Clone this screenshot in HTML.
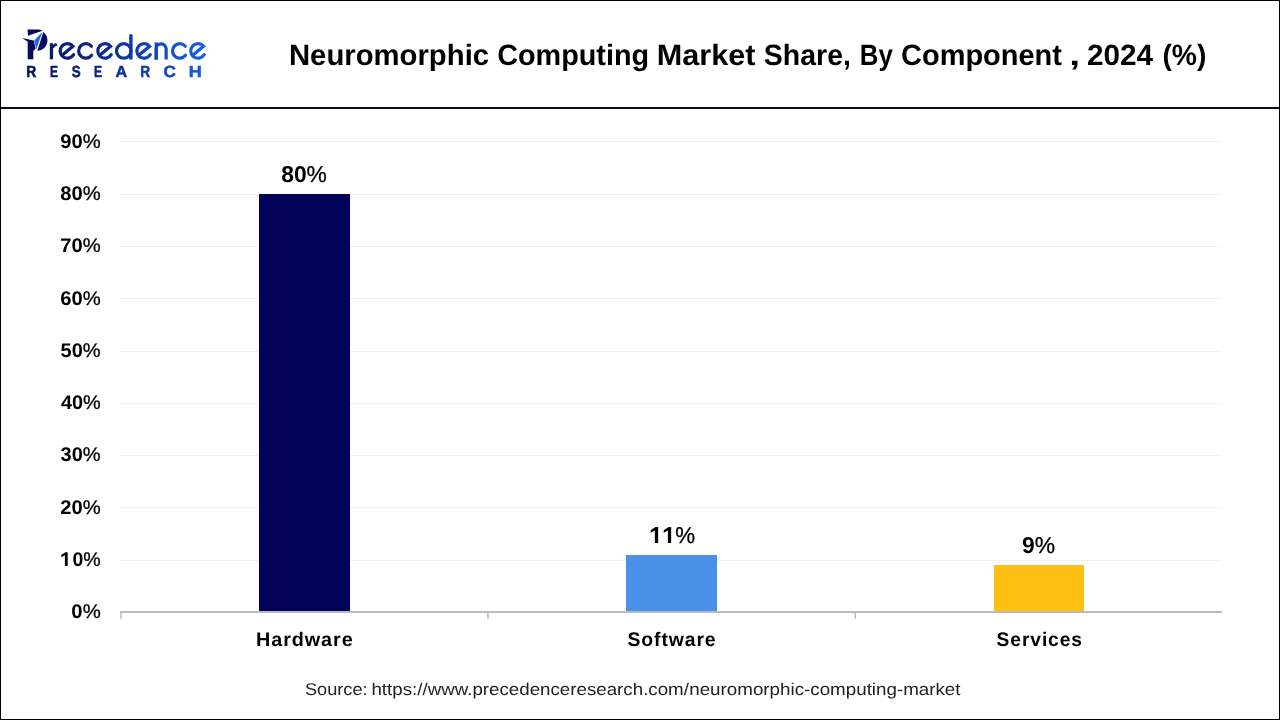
<!DOCTYPE html>
<html>
<head>
<meta charset="utf-8">
<style>
*{margin:0;padding:0;box-sizing:border-box;}
html,body{width:1280px;height:720px;overflow:hidden;background:#fff;}
body{position:relative;font-family:"Liberation Sans",sans-serif;}
svg{position:absolute;left:0;top:0;will-change:transform;}
svg text{font-family:"Liberation Sans",sans-serif;text-rendering:geometricPrecision;}
</style>
</head>
<body>
<svg width="1280" height="720" viewBox="0 0 1280 720">
<defs>
<linearGradient id="lg" gradientUnits="userSpaceOnUse" x1="20" y1="0" x2="206" y2="0">
<stop offset="0" stop-color="#0a0f5c"/>
<stop offset="0.45" stop-color="#0c2a8a"/>
<stop offset="1" stop-color="#1a62e6"/>
</linearGradient>
</defs>
<rect x="0" y="0" width="1280" height="720" fill="#fff"/>
<!-- frame -->
<rect x="0.5" y="0.5" width="1279" height="719" fill="none" stroke="#000" stroke-width="1"/>
<rect x="1" y="107" width="1278" height="2" fill="#0a0a30"/>
<!-- grid -->
<rect x="120" y="141" width="1102" height="1" fill="#f0f0f0"/>
<rect x="120" y="194" width="1102" height="1" fill="#f0f0f0"/>
<rect x="120" y="246" width="1102" height="1" fill="#f0f0f0"/>
<rect x="120" y="298" width="1102" height="1" fill="#f0f0f0"/>
<rect x="120" y="351" width="1102" height="1" fill="#f0f0f0"/>
<rect x="120" y="403" width="1102" height="1" fill="#f0f0f0"/>
<rect x="120" y="455" width="1102" height="1" fill="#f0f0f0"/>
<rect x="120" y="507" width="1102" height="1" fill="#f0f0f0"/>
<rect x="120" y="560" width="1102" height="1" fill="#f0f0f0"/>
<!-- bars -->
<rect x="259" y="194" width="91" height="417" fill="#020258"/>
<rect x="626" y="555" width="91" height="56" fill="#4a90e9"/>
<rect x="994" y="565" width="90" height="46" fill="#fdbf10"/>
<!-- axis -->
<rect x="120" y="611" width="1102" height="2" fill="#bababa"/>
<rect x="120.3" y="611" width="1.5" height="7.8" fill="#bababa"/>
<rect x="487.2" y="611" width="1.5" height="7.8" fill="#bababa"/>
<rect x="854.5" y="611" width="1.5" height="7.8" fill="#bababa"/>
<!-- logo -->
<g fill="none" stroke="url(#lg)" stroke-width="3.20" stroke-linecap="round" stroke-linejoin="miter">
<path d="M73.61,54.68 A7.25,7.25 0 1 1 72.95,46.29 L61.77,55.51"/>
<path d="M111.26,54.68 A7.25,7.25 0 1 1 110.60,46.29 L99.42,55.51"/>
<path d="M150.31,54.68 A7.25,7.25 0 1 1 149.65,46.29 L138.47,55.51"/>
<path d="M204.21,54.68 A7.25,7.25 0 1 1 203.55,46.29 L192.37,55.51"/>
<path d="M91.69,55.31 A7.25,7.25 0 1 1 91.45,46.29"/>
<path d="M185.54,55.31 A7.25,7.25 0 1 1 185.30,46.29"/>
<path d="M131.00,50.95 A7.25,7.25 0 1 0 116.50,50.95 A7.25,7.25 0 1 0 131.00,50.95"/>
<path d="M156.2,59.6 V48.8 A4.97,4.97 0 0 1 166.15,48.8 V59.6" stroke-linecap="butt"/>
</g>
<g fill="url(#lg)">
<rect x="129.2" y="34.3" width="3.4" height="25.2"/>
<rect x="49.8" y="43.2" width="3.3" height="16.1"/>
<path d="M52.6,45.4 Q54,43.3 56.2,42.9 L57.3,45.4 Q55,45.8 53.1,48.6 Z"/>
<rect x="154.6" y="42.4" width="3.2" height="17.2"/>
</g>
<g fill="#08085c">
<path d="M27.5,29.6 L39.2,29.6 Q41.4,29.8 42.5,30.8 L28,35.7 Z"/>
<path d="M22.1,38.1 L33.7,40.5 L35.7,48.7 L33.3,51.0 L33.3,59.3 L27.7,59.3 L27.7,41.7 Z"/>
<path d="M43.3,32.0 C46.3,34.1 47.6,37.6 47.4,41.2 C47.0,46.6 42.6,50.4 37.3,50.9 Z"/>
</g>
<path d="M34.2,40.4 L42.4,31.8 L36.3,49.2 Z" fill="#1d68e4"/>
<text transform="translate(26.37 76.72) scale(0.8595 1)" font-size="16.14" font-weight="bold" fill="#0c1160" stroke="#0c1160" stroke-width="0.55">R</text>
<text transform="translate(49.99 76.72) scale(0.7465 1)" font-size="16.14" font-weight="bold" fill="#0d186c" stroke="#0d186c" stroke-width="0.55">E</text>
<text transform="translate(71.66 76.72) scale(0.8333 1)" font-size="16.14" font-weight="bold" fill="#0e1f78" stroke="#0e1f78" stroke-width="0.55">S</text>
<text transform="translate(94.09 76.72) scale(0.7465 1)" font-size="16.14" font-weight="bold" fill="#0e2684" stroke="#0e2684" stroke-width="0.55">E</text>
<text transform="translate(115.51 76.72) scale(1.0000 1)" font-size="16.14" font-weight="bold" fill="#103094" stroke="#103094" stroke-width="0.55">A</text>
<text transform="translate(140.28 76.72) scale(0.8502 1)" font-size="16.14" font-weight="bold" fill="#133da9" stroke="#133da9" stroke-width="0.55">R</text>
<text transform="translate(163.62 76.72) scale(1.0587 1)" font-size="16.14" font-weight="bold" fill="#1649bd" stroke="#1649bd" stroke-width="0.55">C</text>
<text transform="translate(188.80 76.72) scale(1.1178 1)" font-size="16.14" font-weight="bold" fill="#1957d3" stroke="#1957d3" stroke-width="0.55">H</text>
<!-- texts -->
<text transform="translate(288.97 64.60) scale(0.9962 1)" font-size="29.40" font-weight="bold" fill="#000">Neuromorphic</text>
<text transform="translate(497.20 64.60) scale(0.9795 1)" font-size="29.40" font-weight="bold" fill="#000">Computing</text>
<text transform="translate(656.79 64.60) scale(1.0421 1)" font-size="29.40" font-weight="bold" fill="#000">Market</text>
<text transform="translate(763.86 64.60) scale(0.9683 1)" font-size="29.40" font-weight="bold" fill="#000">Share,</text>
<text transform="translate(859.79 64.60) scale(0.8767 1)" font-size="29.40" font-weight="bold" fill="#000">By</text>
<text transform="translate(901.10 64.60) scale(0.9849 1)" font-size="29.40" font-weight="bold" fill="#000">Component</text>
<text transform="translate(1069.16 64.60) scale(1.3279 1)" font-size="29.40" font-weight="bold" fill="#000">,</text>
<text transform="translate(1086.97 64.60) scale(1.0113 1)" font-size="29.40" font-weight="bold" fill="#000">2024</text>
<text transform="translate(1162.38 64.60) scale(0.9611 1)" font-size="29.40" font-weight="bold" fill="#000">(%)</text>
<text transform="translate(60.27 147.60) scale(1.0203 1)" font-size="19.80" font-weight="bold" fill="#000">90<tspan font-weight="normal" stroke="#000" stroke-width="0.3">%</tspan></text>
<text transform="translate(60.27 199.90) scale(1.0203 1)" font-size="19.80" font-weight="bold" fill="#000">80<tspan font-weight="normal" stroke="#000" stroke-width="0.3">%</tspan></text>
<text transform="translate(60.27 252.20) scale(1.0203 1)" font-size="19.80" font-weight="bold" fill="#000">70<tspan font-weight="normal" stroke="#000" stroke-width="0.3">%</tspan></text>
<text transform="translate(60.27 304.50) scale(1.0203 1)" font-size="19.80" font-weight="bold" fill="#000">60<tspan font-weight="normal" stroke="#000" stroke-width="0.3">%</tspan></text>
<text transform="translate(60.59 356.80) scale(1.0121 1)" font-size="19.80" font-weight="bold" fill="#000">50<tspan font-weight="normal" stroke="#000" stroke-width="0.3">%</tspan></text>
<text transform="translate(60.90 409.10) scale(1.0041 1)" font-size="19.80" font-weight="bold" fill="#000">40<tspan font-weight="normal" stroke="#000" stroke-width="0.3">%</tspan></text>
<text transform="translate(60.59 461.40) scale(1.0121 1)" font-size="19.80" font-weight="bold" fill="#000">30<tspan font-weight="normal" stroke="#000" stroke-width="0.3">%</tspan></text>
<text transform="translate(60.27 513.70) scale(1.0203 1)" font-size="19.80" font-weight="bold" fill="#000">20<tspan font-weight="normal" stroke="#000" stroke-width="0.3">%</tspan></text>
<text transform="translate(72.39 566.00) scale(0.9887 1)" font-size="19.80" font-weight="bold" fill="#000">0<tspan font-weight="normal" stroke="#000" stroke-width="0.3">%</tspan></text>
<text transform="translate(71.37 618.30) scale(1.0252 1)" font-size="19.80" font-weight="bold" fill="#000">0<tspan font-weight="normal" stroke="#000" stroke-width="0.3">%</tspan></text>
<text transform="translate(281.19 181.90) scale(0.9937 1)" font-size="23.00" font-weight="bold" fill="#000">80<tspan font-weight="normal" stroke="#000" stroke-width="0.3">%</tspan></text>
<text transform="translate(675.20 543.00) scale(0.9713 1)" font-size="23.00" stroke="#000" stroke-width="0.30" fill="#000">%</text>
<text transform="translate(1021.98 552.50) scale(0.9957 1)" font-size="23.00" font-weight="bold" fill="#000">9<tspan font-weight="normal" stroke="#000" stroke-width="0.3">%</tspan></text>
<text transform="translate(256.06 645.90) scale(1.0105 1)" font-size="19.60" font-weight="bold" letter-spacing="0.90" fill="#000">Hardware</text>
<text transform="translate(627.50 645.90) scale(0.9900 1)" font-size="19.60" font-weight="bold" letter-spacing="0.90" fill="#000">Software</text>
<text transform="translate(996.60 645.90) scale(0.9825 1)" font-size="19.60" font-weight="bold" letter-spacing="0.90" fill="#000">Services</text>
<text transform="translate(304.93 694.80) scale(1.0704 1)" font-size="17.00" fill="#222222">Source:</text>
<text transform="translate(371.43 694.80) scale(1.1017 1)" font-size="17.00" fill="#222222">https://www.precedenceresearch.com/</text>
<text transform="translate(689.23 694.80) scale(1.1044 1)" font-size="17.00" fill="#222222">neuromorphic-computing-market</text>
<path d="M64.88,566.00 L67.69,566.00 L67.69,552.25 L65.42,552.25 L61.30,555.00 L61.30,557.27 L64.88,555.21 Z" fill="#000"/>
<path d="M654.86,543.00 L658.14,543.00 L658.14,527.00 L655.50,527.00 L650.70,530.20 L650.70,532.84 L654.86,530.44 Z" fill="#000"/>
<path d="M667.86,543.00 L671.14,543.00 L671.14,527.00 L668.50,527.00 L663.70,530.20 L663.70,532.84 L667.86,530.44 Z" fill="#000"/>
</svg>
</body>
</html>
